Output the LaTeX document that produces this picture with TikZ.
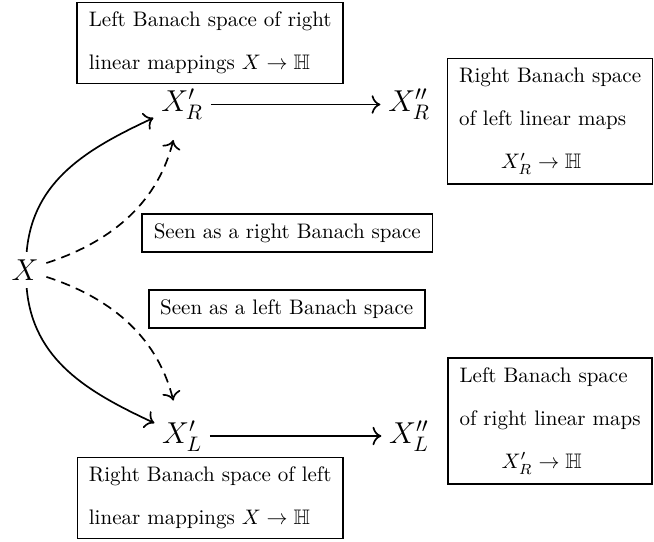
\documentclass[tikz,border=0pt]{standalone}
\usepackage{amsmath,amssymb}
\usetikzlibrary{arrows.meta}
\begin{document}
\begin{tikzpicture}[thick,>={To[scale=1.25]},
  sp/.style={font=\Large},
  seen/.style={dash pattern=on 4.5pt off 3pt,shorten >=6pt},
  box/.style={draw,align=left,inner xsep=5.5pt,inner ysep=4.5pt}]
\useasboundingbox (0,0) rectangle (10.95,9.06);
\node[sp] (X) at (0.42,4.54) {$X$};
\node[sp] (XR) at (3.05,7.31) {$X'_R$};
\node[sp] (XRR) at (6.85,7.31) {$X''_R$};
\node[sp] (XL) at (3.05,1.76) {$X'_L$};
\node[sp] (XLL) at (6.85,1.76) {$X''_L$};

\node[box] (dualR) at (3.52,8.34) {Left Banach space of right\\[8.5pt] linear mappings $X\to\mathbb{H}$};
\node[box] (bidualR) at (9.21,7.03) {Right Banach space\\[8.5pt] of left linear maps\\[8.5pt] \hspace*{20pt}$X'_R\to\mathbb{H}$};
\node[box] (seenR) at (4.81,5.16) {Seen as a right Banach space};
\node[box] (seenL) at (4.80,3.89) {Seen as a left Banach space};
\node[box] (bidualL) at (9.21,2.01) {Left Banach space\\[8.5pt] of right linear maps\\[8.5pt] \hspace*{20pt}$X'_R\to\mathbb{H}$};
\node[box] (dualL) at (3.52,0.72) {Right Banach space of left\\[8.5pt] linear mappings $X\to\mathbb{H}$};

\draw[->] (XR) -- (XRR);
\draw[->] (XL) -- (XLL);
\draw[->] (X) to[out=85,in=205] (XR);
\draw[->] (X) to[out=-85,in=155] (XL);
\draw[->,seen] (X) to[out=18,in=-104] (XR);
\draw[->,seen] (X) to[out=-18,in=104] (XL);
\end{tikzpicture}
\end{document}
